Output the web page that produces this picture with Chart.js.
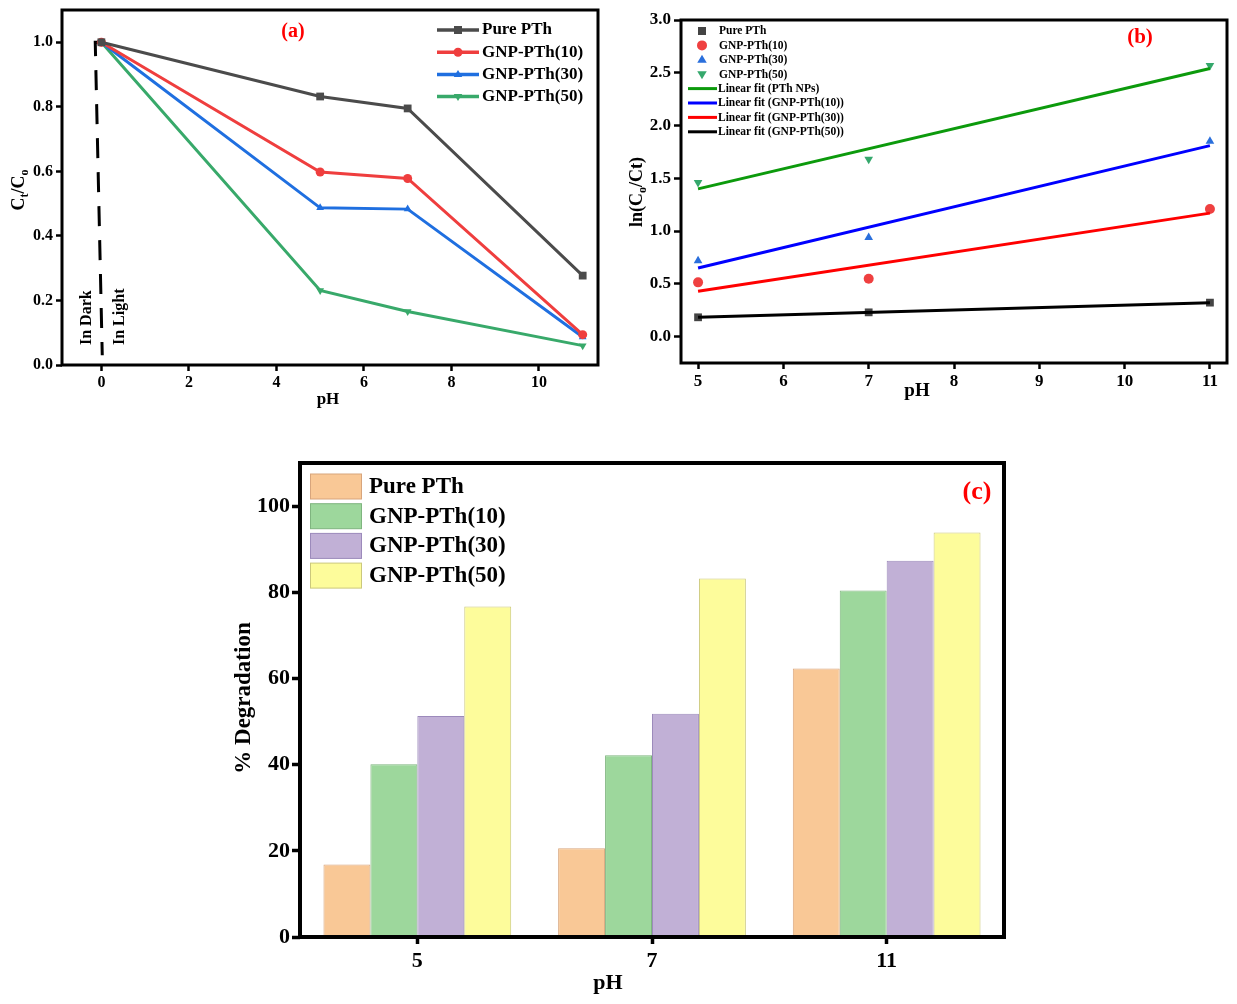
<!DOCTYPE html>
<html><head><meta charset="utf-8">
<script src="https://cdn.jsdelivr.net/npm/chart.js@4.4.1/dist/chart.umd.min.js"></script>
<style>
html,body{margin:0;padding:0;background:#fff;}
body{width:1237px;height:1004px;position:relative;overflow:hidden;}
.panel{position:absolute;}
</style></head><body>
<div class="panel" style="left:0;top:0;width:615px;height:415px"><canvas id="ca"></canvas></div>
<div class="panel" style="left:615px;top:0;width:622px;height:415px"><canvas id="cb"></canvas></div>
<div class="panel" style="left:230px;top:455px;width:790px;height:549px"><canvas id="cc"></canvas></div>
<script>
// ---------- DATA ----------
const seriesNames = ['Pure PTh', 'GNP-PTh(10)', 'GNP-PTh(30)', 'GNP-PTh(50)'];

// Panel (a): Ct/Co vs pH
const phA = [0, 5, 7, 11];
const ratioPure = [1.0, 0.832, 0.795, 0.277];
const ratio10   = [1.0, 0.598, 0.578, 0.094];
const ratio30   = [1.0, 0.487, 0.483, 0.087];
const ratio50   = [1.0, 0.231, 0.166, 0.060];
const dividerX  = [0, -0.14, 0.02];
const dividerY  = [1.0, 1.0, 0.03];
const darkLightLabels = ['In Dark', 'In Light'];

// Panel (b): ln(Co/Ct) vs pH
const phB = [5, 7, 11];
const lnPure = [0.183, 0.230, 0.322];
const ln10   = [0.514, 0.549, 1.21];
const ln30   = [0.72, 0.94, 1.85];
const ln50   = [1.46, 1.68, 2.57];
const fitNames = ['Linear fit (PTh NPs)', 'Linear fit (GNP-PTh(10))', 'Linear fit (GNP-PTh(30))', 'Linear fit (GNP-PTh(50))'];
const fitX = [5, 11];
const fitGreen = [1.40, 2.54];
const fitBlue  = [0.65, 1.81];
const fitRed   = [0.43, 1.17];
const fitBlack = [0.183, 0.322];

// Panel (c): % degradation
const phC = ['5', '7', '11'];
const degPure = [16.8, 20.6, 62.3];
const deg10   = [40.1, 42.2, 80.4];
const deg30   = [51.3, 51.8, 87.3];
const deg50   = [76.7, 83.2, 93.9];

// ---------- STYLE ----------
const FF = '"Liberation Serif","Times New Roman",serif';
Chart.defaults.font.family = FF;
Chart.defaults.font.weight = 'bold';
Chart.defaults.color = '#000';
Chart.defaults.animation = false;
Chart.defaults.plugins.legend.display = false;
Chart.defaults.plugins.tooltip.enabled = false;

const xy = (xs, ys) => xs.map((x, i) => ({x: x, y: ys[i]}));

function marker(ctx, style, x, y, r, color, down) {
  ctx.save();
  ctx.fillStyle = color;
  ctx.beginPath();
  if (style === 'rect') { const s = r * 0.8; ctx.rect(x - s, y - s, 2 * s, 2 * s); }
  else if (style === 'circle') { ctx.arc(x, y, r, 0, Math.PI * 2); }
  else {
    const d = down ? -1 : 1;
    ctx.moveTo(x, y - d * r);
    ctx.lineTo(x + r * 0.95, y + d * r * 0.6);
    ctx.lineTo(x - r * 0.95, y + d * r * 0.6);
    ctx.closePath();
  }
  ctx.fill();
  ctx.restore();
}

function text(ctx, t, x, y, size, color, align, rot) {
  ctx.save();
  ctx.translate(x, y);
  if (rot) ctx.rotate(rot);
  ctx.font = 'bold ' + size + 'px ' + FF;
  ctx.fillStyle = color || '#000';
  ctx.textAlign = align || 'center';
  ctx.textBaseline = 'middle';
  ctx.fillText(t, 0, 0);
  ctx.restore();
}

function richText(ctx, parts, cx, cy, rot) {
  ctx.save();
  ctx.translate(cx, cy);
  if (rot) ctx.rotate(rot);
  ctx.fillStyle = '#000';
  ctx.textBaseline = 'alphabetic';
  ctx.textAlign = 'left';
  let w = 0;
  parts.forEach(p => { ctx.font = 'bold ' + p.s + 'px ' + FF; p.w = ctx.measureText(p.t).width; w += p.w; });
  let x = -w / 2;
  const base = parts[0].s * 0.33;
  parts.forEach(p => { ctx.font = 'bold ' + p.s + 'px ' + FF; ctx.fillText(p.t, x, base + (p.dy || 0)); x += p.w; });
  ctx.restore();
}

function boxPlugin(lw) {
  return {
    id: 'box',
    afterDatasetsDraw(chart) {
      const {ctx, chartArea: a} = chart;
      ctx.save();
      ctx.strokeStyle = '#000';
      ctx.lineWidth = lw;
      ctx.strokeRect(a.left, a.top, a.right - a.left, a.bottom - a.top);
      ctx.restore();
    }
  };
}

function tickGrid(len, w) {
  return {display: true, drawOnChartArea: false, drawTicks: true, tickLength: len, tickWidth: w, tickColor: '#000'};
}
function fitX_(h) { return function (s) { s.height = h; s.paddingLeft = 0; s.paddingRight = 0; }; }
function fitY_(w) { return function (s) { s.width = w; s.paddingTop = 0; s.paddingBottom = 0; }; }

// ---------- PANEL (a) ----------
const colA = ['#4b4b4b', '#ef3e3e', '#1f6fe0', '#38a96a'];
const styleA = ['rect', 'circle', 'triangle', 'triangle'];
const dataA = [ratioPure, ratio10, ratio30, ratio50];

new Chart(document.getElementById('ca'), {
  type: 'line',
  data: {
    datasets: dataA.map((d, i) => ({
      label: seriesNames[i],
      data: xy(phA, d),
      borderColor: colA[i], backgroundColor: colA[i],
      borderWidth: 3, tension: 0,
      pointStyle: styleA[i], pointRotation: i === 3 ? 180 : 0,
      pointRadius: i === 0 ? 5.5 : 4.5, pointBorderWidth: 0
    })).concat([{
      label: 'divider',
      data: xy(dividerX, dividerY),
      borderColor: '#000', borderWidth: 3, borderDash: [20, 14],
      pointRadius: 0, tension: 0
    }])
  },
  options: {
    responsive: true, maintainAspectRatio: false,
    layout: {padding: {left: 0, top: 10, right: 17, bottom: 0}},
    scales: {
      x: {
        type: 'linear', min: -0.9, max: 11.35,
        ticks: {stepSize: 2, includeBounds: false, font: {size: 16}, padding: 2, maxRotation: 0},
        grid: tickGrid(6, 2.5), border: {display: false},
        afterFit: fitX_(50)
      },
      y: {
        min: 0, max: 1.1,
        ticks: {stepSize: 0.2, includeBounds: false, font: {size: 16}, padding: 3, callback: v => v.toFixed(1)},
        grid: tickGrid(6, 2.5), border: {display: false},
        afterFit: fitY_(62)
      }
    }
  },
  plugins: [boxPlugin(3), {
    id: 'decorA',
    afterDraw(chart) {
      const ctx = chart.ctx, a = chart.chartArea;
      const xs = chart.scales.x, ys = chart.scales.y;
      for (let i = 0; i < 4; i++) {
        const y = 30 + i * 22.2;
        ctx.save(); ctx.strokeStyle = colA[i]; ctx.lineWidth = 3.5;
        ctx.beginPath(); ctx.moveTo(437, y); ctx.lineTo(479, y); ctx.stroke(); ctx.restore();
        marker(ctx, styleA[i], 458, y, i === 0 ? 5 : 4.5, colA[i], i === 3);
        text(ctx, seriesNames[i], 482, y, 17, '#000', 'left');
      }
      text(ctx, '(a)', 293, 32, 20, '#ff0000');
      const x0 = xs.getPixelForValue(0), yb = ys.getPixelForValue(0) - 20;
      text(ctx, darkLightLabels[0], x0 - 15, yb, 16, '#000', 'left', -Math.PI / 2);
      text(ctx, darkLightLabels[1], x0 + 18, yb, 16, '#000', 'left', -Math.PI / 2);
      text(ctx, 'pH', (a.left + a.right) / 2 - 2, 400, 17);
      richText(ctx, [{t: 'C', s: 18}, {t: 't', s: 12, dy: 4}, {t: '/C', s: 18}, {t: 'o', s: 12, dy: 4}], 18, 190, -Math.PI / 2);
    }
  }]
});

// ---------- PANEL (b) ----------
const colB = ['#444444', '#ef4040', '#2a6fdc', '#35a86c'];
const styleB = ['rect', 'circle', 'triangle', 'triangle'];
const dataB = [lnPure, ln10, ln30, ln50];
const fitCol = ['#0c9a0c', '#0000ff', '#ff0000', '#000000'];
const fitData = [fitGreen, fitBlue, fitRed, fitBlack];

new Chart(document.getElementById('cb'), {
  type: 'scatter',
  data: {
    datasets: fitData.map((d, i) => ({
      label: fitNames[i], type: 'line',
      data: xy(fitX, d), borderColor: fitCol[i], borderWidth: 3,
      pointRadius: 0, tension: 0, order: 1
    })).concat(dataB.map((d, i) => ({
      label: seriesNames[i],
      data: xy(phB, d), backgroundColor: colB[i], borderColor: colB[i],
      pointStyle: styleB[i], pointRotation: i === 3 ? 180 : 0,
      pointRadius: i === 0 ? 5.5 : 5, pointBorderWidth: 0, showLine: false, order: 2
    })))
  },
  options: {
    responsive: true, maintainAspectRatio: false,
    layout: {padding: {left: 0, top: 20, right: 10, bottom: 0}},
    scales: {
      x: {
        type: 'linear', min: 4.8, max: 11.2,
        ticks: {stepSize: 1, includeBounds: false, font: {size: 17}, padding: 2, maxRotation: 0},
        grid: tickGrid(6, 2.5), border: {display: false},
        afterFit: fitX_(52)
      },
      y: {
        min: -0.25, max: 3.0,
        ticks: {stepSize: 0.5, includeBounds: false, font: {size: 17}, padding: 3, callback: v => v.toFixed(1)},
        grid: tickGrid(7, 2.5), border: {display: false},
        afterFit: fitY_(66)
      }
    }
  },
  plugins: [boxPlugin(3), {
    id: 'decorB',
    afterDraw(chart) {
      const ctx = chart.ctx;
      for (let i = 0; i < 4; i++) {
        const y = 31 + i * 14.4;
        marker(ctx, styleB[i], 87, y, 5, colB[i], i === 3);
        text(ctx, seriesNames[i], 104, y + 0.5, 11.5, '#000', 'left');
      }
      for (let i = 0; i < 4; i++) {
        const y = 31 + (i + 4) * 14.4;
        ctx.save(); ctx.strokeStyle = fitCol[i]; ctx.lineWidth = 3;
        ctx.beginPath(); ctx.moveTo(73, y); ctx.lineTo(102, y); ctx.stroke(); ctx.restore();
        text(ctx, fitNames[i], 103, y + 0.5, 11.5, '#000', 'left');
      }
      text(ctx, '(b)', 525, 38, 21, '#ff0000');
      text(ctx, 'pH', 302, 391, 19);
      richText(ctx, [{t: 'ln(C', s: 18}, {t: 'o', s: 12, dy: 4}, {t: '/Ct)', s: 18}], 21, 192, -Math.PI / 2);
    }
  }]
});

// ---------- PANEL (c) ----------
const fillC = ['#f9c896', '#9dd79c', '#c1b0d6', '#fdfc9b'];
const edgeC = ['#d8a57c', '#7fb57f', '#9c8abb', '#cbc87c'];
const dataC = [degPure, deg10, deg30, deg50];

new Chart(document.getElementById('cc'), {
  type: 'bar',
  data: {
    labels: phC,
    datasets: dataC.map((d, i) => ({
      label: seriesNames[i], data: d,
      backgroundColor: fillC[i], borderColor: edgeC[i], borderWidth: 1,
      categoryPercentage: 0.8, barPercentage: 1.0
    }))
  },
  options: {
    responsive: true, maintainAspectRatio: false,
    layout: {padding: {left: 0, top: 8, right: 16, bottom: 0}},
    scales: {
      x: {
        ticks: {font: {size: 22}, padding: 4, maxRotation: 0},
        grid: Object.assign(tickGrid(7, 3.5), {offset: false}), border: {display: false},
        afterFit: fitX_(67)
      },
      y: {
        min: 0, max: 110,
        ticks: {stepSize: 20, includeBounds: false, font: {size: 22}, padding: 2},
        grid: tickGrid(8, 3.5), border: {display: false},
        afterFit: fitY_(70)
      }
    }
  },
  plugins: [boxPlugin(4), {
    id: 'decorC',
    afterDraw(chart) {
      const ctx = chart.ctx;
      for (let i = 0; i < 4; i++) {
        const y = 19 + i * 29.7;
        ctx.save();
        ctx.fillStyle = fillC[i]; ctx.strokeStyle = edgeC[i]; ctx.lineWidth = 1;
        ctx.fillRect(80.5, y, 51, 25); ctx.strokeRect(80.5, y, 51, 25);
        ctx.restore();
        text(ctx, seriesNames[i], 139, y + 13, 23, '#000', 'left');
      }
      text(ctx, '(c)', 747, 37, 26, '#ff0000');
      text(ctx, 'pH', 378, 528, 22);
      text(ctx, '% Degradation', 14, 243, 23, '#000', 'center', -Math.PI / 2);
    }
  }]
});
</script>
</body></html>
